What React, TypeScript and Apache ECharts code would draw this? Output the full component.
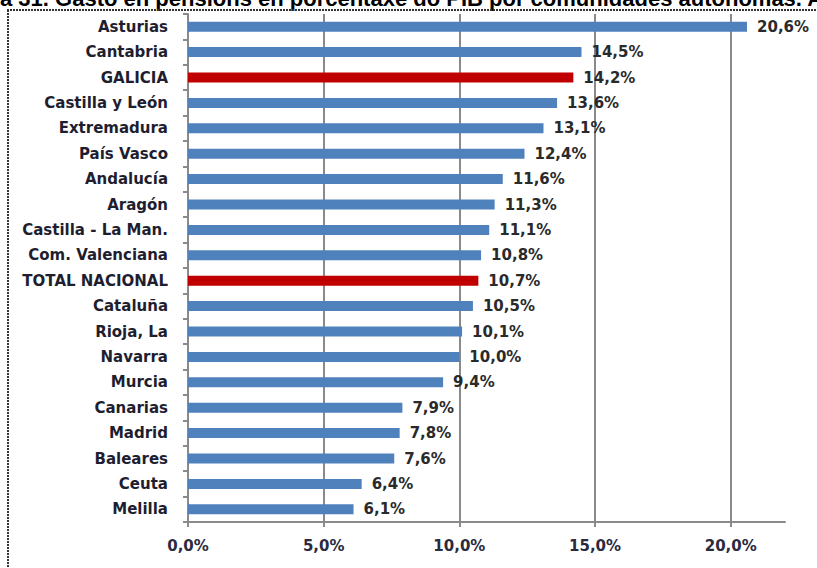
import React, { useEffect, useRef } from "react";
import * as echarts from "echarts";

const categories = [
  "Asturias", "Cantabria", "GALICIA", "Castilla y León", "Extremadura",
  "País Vasco", "Andalucía", "Aragón", "Castilla - La Man.", "Com. Valenciana",
  "TOTAL NACIONAL", "Cataluña", "Rioja, La", "Navarra", "Murcia",
  "Canarias", "Madrid", "Baleares", "Ceuta", "Melilla",
];
const values = [20.6, 14.5, 14.2, 13.6, 13.1, 12.4, 11.6, 11.3, 11.1, 10.8, 10.7, 10.5, 10.1, 10.0, 9.4, 7.9, 7.8, 7.6, 6.4, 6.1];
const highlighted = ["GALICIA", "TOTAL NACIONAL"];
const xTicks = [0, 5, 10, 15, 20];
const titleText = "a 31. Gasto en pensións en porcentaxe do PIB por comunidades autónomas. Ano";

const fmt = (v: number) => v.toFixed(1).replace(".", ",") + "%";

export default function App() {
  const ref = useRef<HTMLDivElement>(null);
  useEffect(() => {
    if (!ref.current) return;
    const chart = echarts.init(ref.current, null, { renderer: "svg" });
    const font = "'DejaVu Sans', Verdana, sans-serif";
    chart.setOption({
      animation: false,
      backgroundColor: "#ffffff",
      grid: { left: 188, right: 32, top: 14, bottom: 46 },
      xAxis: {
        type: "value",
        min: 0,
        max: 22,
        interval: 5,
        axisLine: { show: true, lineStyle: { color: "#8a8a8a", width: 2 } },
        axisTick: { show: true, length: 5, lineStyle: { color: "#8a8a8a", width: 2 } },
        splitLine: { show: true, showMinLine: false, showMaxLine: false, lineStyle: { color: "#8a8a8a", width: 2 } },
        axisLabel: {
          showMaxLabel: false,
          margin: 16,
          fontFamily: font,
          fontWeight: "bold",
          fontSize: 15,
          color: "#2a2a40",
          formatter: (v: number) => (xTicks.includes(v) ? fmt(v) : ""),
        },
      },
      yAxis: {
        type: "category",
        data: categories,
        inverse: true,
        axisLine: { show: true, lineStyle: { color: "#8a8a8a", width: 2 } },
        axisTick: { show: true, length: 5, alignWithLabel: false, inside: false, lineStyle: { color: "#8a8a8a", width: 2 } },
        axisLabel: { margin: 20, fontFamily: font, fontWeight: "bold", fontSize: 15, color: "#1e1e30" },
        splitLine: { show: false },
      },
      series: [
        {
          type: "bar",
          barWidth: 10,
          data: values.map((v, i) => ({
            value: v,
            itemStyle: { color: highlighted.includes(categories[i]) ? "#c00000" : "#4f81bd" },
          })),
          label: {
            show: true,
            position: "right",
            distance: 10,
            fontFamily: font,
            fontWeight: "bold",
            fontSize: 15,
            color: "#2a2a2a",
            formatter: (p: any) => fmt(p.value),
          },
        },
      ],
      graphic: [
        {
          type: "text",
          left: 0,
          top: -13,
          style: { text: titleText, font: "bold 22px 'Liberation Sans', Arial, sans-serif", fill: "#000" },
        },
        {
          type: "line",
          shape: { x1: 7, y1: 10, x2: 817, y2: 10 },
          style: { stroke: "#333", lineWidth: 2, lineDash: [2, 1] },
        },
        {
          type: "line",
          shape: { x1: 8, y1: 10, x2: 8, y2: 568 },
          style: { stroke: "#333", lineWidth: 2, lineDash: [2, 1] },
        },
      ],
    });
    return () => chart.dispose();
  }, []);
  return <div ref={ref} style={{ position: "fixed", left: 0, top: 0, width: 817, height: 568 }} />;
}
